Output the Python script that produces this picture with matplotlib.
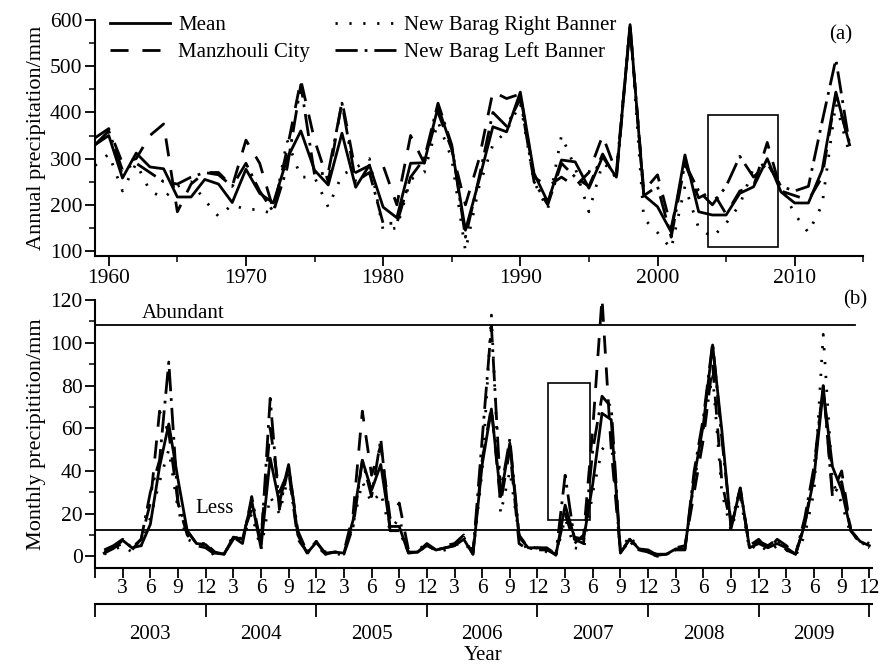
import numpy as np
import matplotlib.pyplot as plt
from matplotlib.patches import Rectangle
from matplotlib.ticker import MultipleLocator

plt.rcParams['font.family'] = ['Liberation Serif', 'DejaVu Serif']

# ---- (a) annual precipitation, 1959-2014 ----
years = list(range(1959, 2015))
annual_mean = [330, 350, 258, 312, 282, 278, 217, 217, 255, 245, 205, 277, 225, 204,
               300, 360, 275, 243, 355, 238, 286, 195, 172, 290, 291, 412, 325, 145,
               254, 369, 358, 444, 268, 206, 297, 293, 236, 304, 260, 590, 221, 196,
               141, 308, 185, 178, 178, 225, 239, 300, 228, 204, 204, 275, 444, 330]
annual_manzhouli = [345, 365, 290, 300, 350, 375, 185, 245, 270, 270, 240, 340, 290, 190,
                    320, 470, 340, 250, 425, 270, 285, 285, 200, 350, 290, 400, 320, 200,
                    300, 445, 430, 440, 260, 240, 260, 240, 270, 350, 270, 585, 230, 265,
                    150, 290, 215, 230, 180, 230, 240, 335, 230, 220, 210, 260, 440, 330]
annual_right = [285, 310, 230, 290, 230, 215, 240, 250, 210, 175, 200, 190, 190, 180,
                340, 260, 260, 195, 265, 280, 300, 145, 150, 255, 270, 380, 300, 100,
                240, 330, 360, 420, 250, 190, 350, 280, 185, 290, 270, 590, 170, 140,
                105, 240, 150, 130, 160, 200, 280, 290, 240, 180, 140, 200, 420, 310]
annual_left = [330, 360, 275, 290, 270, 250, 245, 260, 270, 265, 240, 290, 230, 185,
               280, 460, 265, 270, 420, 250, 270, 160, 160, 260, 300, 420, 330, 130,
               260, 400, 370, 430, 250, 200, 290, 260, 240, 310, 255, 590, 220, 240,
               130, 290, 230, 200, 240, 305, 260, 290, 240, 230, 240, 380, 515, 330]

# ---- (b) monthly precipitation, Jan 2003 - Dec 2009 ----
months = list(range(1, 85))
monthly_mean = [1.5, 3.7, 7.5, 4, 5, 15, 42, 62, 36, 12, 6, 5.5,
                1.5, 1, 9, 8, 26, 4, 46, 25, 43, 10, 1.5, 6.5,
                1.5, 2, 1.5, 17, 45, 31, 43, 14, 14, 1.5, 2, 6,
                3, 4, 5, 8, 1, 43, 69, 28, 53, 9, 4, 4,
                3.5, 0.5, 24, 9, 8, 34, 67, 64, 1.5, 8, 3.5, 3,
                0.5, 1, 3.5, 3.5, 37, 62, 99, 59, 13, 32, 4, 6,
                4, 6, 4, 1, 15, 37, 78, 42, 31, 12, 7, 5]
monthly_manzhouli = [2, 4, 6, 3, 8, 25, 68, 58, 25, 10, 5, 4,
                     1, 1, 8, 10, 22, 8, 60, 30, 40, 8, 2, 5,
                     1, 2, 2, 20, 68, 38, 52, 18, 25, 3, 2, 5,
                     3, 5, 6, 10, 2, 45, 70, 25, 50, 6, 3, 4,
                     4, 1, 20, 6, 10, 60, 121, 50, 2, 8, 4, 2,
                     1, 1, 4, 5, 30, 55, 90, 35, 14, 30, 5, 8,
                     3, 8, 5, 1, 15, 40, 80, 30, 40, 12, 6, 4]
monthly_right = [1, 3, 5, 2, 5, 18, 35, 50, 22, 8, 6, 5,
                 0, 1, 10, 8, 20, 3, 28, 20, 38, 10, 1, 7,
                 2, 1, 1, 15, 35, 25, 30, 12, 18, 2, 3, 6,
                 2, 3, 5, 7, 1, 40, 113, 20, 40, 10, 2, 5,
                 2, 0, 18, 4, 3, 30, 50, 55, 2, 10, 3, 2,
                 0, 1, 3, 4, 35, 60, 85, 30, 12, 28, 3, 6,
                 2, 5, 3, 0, 10, 30, 104, 35, 25, 10, 8, 6]
monthly_left = [3, 5, 8, 4, 8, 30, 45, 91, 25, 12, 6, 6,
                2, 1, 9, 6, 28, 5, 74, 22, 42, 12, 2, 7,
                1, 2, 1, 14, 45, 28, 55, 12, 12, 2, 2, 5,
                3, 4, 5, 9, 1, 55, 108, 30, 55, 10, 4, 3,
                3, 1, 38, 8, 6, 50, 75, 70, 2, 7, 3, 2,
                0, 1, 3, 3, 40, 65, 100, 55, 15, 32, 4, 7,
                5, 8, 3, 1, 18, 42, 80, 28, 35, 12, 7, 4]
year_labels = ['2003', '2004', '2005', '2006', '2007', '2008', '2009']
abundant_level = 108.5
less_level = 12.2

fs = 15.5      # tick labels
fs_txt = 15    # legend / annotations
lw = 2.0
styles = {
    'Mean': dict(linestyle='-'),
    'Manzhouli City': dict(linestyle=(0, (6.5, 5))),
    'New Barag Right Banner': dict(linestyle=(0, (0.8, 4.2))),
    'New Barag Left Banner': dict(linestyle=(0, (8, 2.5, 1, 2.5))),
}

fig = plt.figure(figsize=(8.8, 6.67), dpi=100)
ax_a = fig.add_axes([0.108, 0.616, 0.873, 0.354])
ax_b = fig.add_axes([0.108, 0.148, 0.883, 0.402])

for ax in (ax_a, ax_b):
    ax.spines['top'].set_visible(False)
    ax.spines['right'].set_visible(False)
    ax.spines['left'].set_linewidth(1.5)
    ax.spines['bottom'].set_linewidth(1.5)
    ax.tick_params(which='major', direction='out', length=7, width=1.3,
                   labelsize=fs, pad=2)
    ax.tick_params(which='minor', direction='out', length=4, width=1.1)

# panel (a)
for name, ys in [('Mean', annual_mean), ('Manzhouli City', annual_manzhouli),
                 ('New Barag Right Banner', annual_right),
                 ('New Barag Left Banner', annual_left)]:
    ax_a.plot(years, ys, color='black', lw=lw, label=name, **styles[name])
ax_a.set_xlim(1959, 2015)
ax_a.set_ylim(89, 600)
ax_a.xaxis.set_major_locator(MultipleLocator(10))
ax_a.xaxis.set_minor_locator(MultipleLocator(5))
ax_a.yaxis.set_major_locator(MultipleLocator(100))
ax_a.yaxis.set_minor_locator(MultipleLocator(50))
ax_a.set_ylabel('Annual precipitation/mm', fontsize=16, labelpad=3)
ax_a.add_patch(Rectangle((2003.7, 109), 5.1, 285, fill=False, lw=1.2, ec='black'))
ax_a.text(0.97, 0.935, '(a)', transform=ax_a.transAxes, fontsize=fs_txt,
          ha='center', va='center')
ax_a.legend(loc='upper left', bbox_to_anchor=(0.0, 1.08), ncol=2, frameon=False,
            fontsize=fs_txt, handlelength=2.9, labelspacing=0.35,
            columnspacing=1.2, handletextpad=0.4, borderaxespad=0.3)

# panel (b)
for name, ys in [('Mean', monthly_mean), ('Manzhouli City', monthly_manzhouli),
                 ('New Barag Right Banner', monthly_right),
                 ('New Barag Left Banner', monthly_left)]:
    ax_b.plot(months, ys, color='black', lw=lw, **styles[name])
ax_b.set_xlim(0, 84.3)
ax_b.set_ylim(-5.6, 120)
ax_b.yaxis.set_major_locator(MultipleLocator(20))
ax_b.yaxis.set_minor_locator(MultipleLocator(10))
ax_b.set_ylabel('Monthly precipitition/mm', fontsize=16, labelpad=3)
ax_b.plot([0, 82.5], [abundant_level, abundant_level], color='black', lw=1.3)
ax_b.axhline(less_level, color='black', lw=1.3)
ax_b.text(5.1, abundant_level + 1, 'Abundant', fontsize=fs_txt, ha='left', va='bottom')
ax_b.text(10.9, 22.5, 'Less', fontsize=fs_txt, ha='left', va='center')
ax_b.add_patch(Rectangle((49.1, 17.2), 4.6, 63.8, fill=False, lw=1.2, ec='black'))
ax_b.text(0.978, 1.0, '(b)', transform=ax_b.transAxes, fontsize=fs_txt,
          ha='center', va='center')

mticks = np.arange(0, 85, 3)
ax_b.set_xticks(mticks)
ax_b.set_xticklabels([''] + [str((m - 1) % 12 + 1) for m in mticks[1:]])
ax_b.tick_params(axis='x', length=7, pad=1)

# second x axis with years
ax_y = ax_b.twiny()
ax_y.set_xlim(ax_b.get_xlim())
ax_y.xaxis.set_ticks_position('bottom')
ax_y.spines['bottom'].set_position(('outward', 26))
ax_y.spines['bottom'].set_linewidth(1.5)
for s in ('top', 'left', 'right'):
    ax_y.spines[s].set_visible(False)
ax_y.set_xticks(np.arange(0, 85, 12))
ax_y.set_xticklabels([])
ax_y.set_xticks(np.arange(6, 84, 12), minor=True)
ax_y.set_xticklabels(year_labels, minor=True)
ax_y.tick_params(which='major', direction='out', length=9, width=1.3)
ax_y.tick_params(which='minor', length=0, labelsize=fs_txt, pad=15)
fig.text(483 / 880, 1 - 656 / 667, 'Year', fontsize=fs_txt, ha='center', va='center')

fig.savefig('out.png', dpi=100)
